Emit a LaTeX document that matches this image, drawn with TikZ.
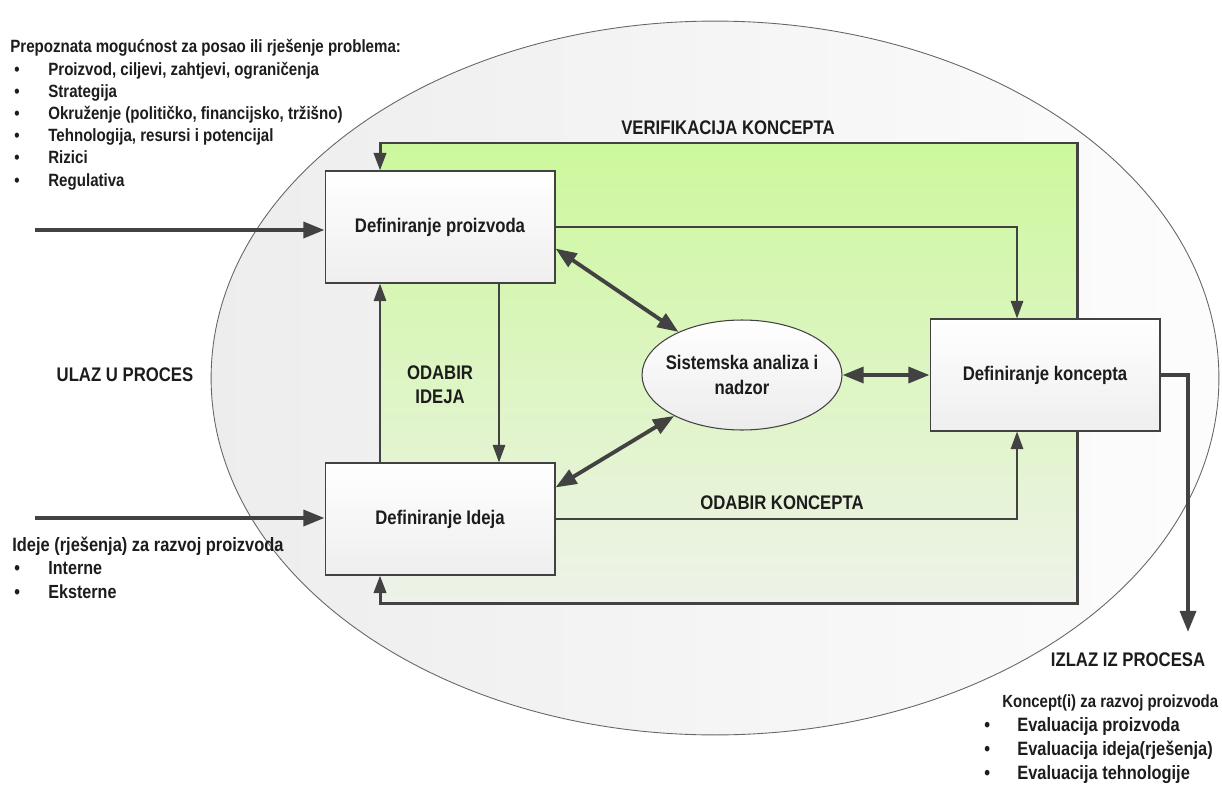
\documentclass[tikz,border=0pt]{standalone}
\usepackage{fontspec}
\setmainfont{Liberation Sans}[FakeStretch=0.85]
\usetikzlibrary{arrows.meta, shapes.geometric}

\definecolor{zelenagore}{RGB}{204,248,156}
\definecolor{zelenadolje}{RGB}{238,242,233}
\definecolor{tamnosiva}{RGB}{66,66,66}
\definecolor{slova}{RGB}{28,28,28}
\newcommand{\pismo}[2]{\fontsize{#1}{#2}\selectfont\bfseries}

\begin{document}
\begin{tikzpicture}[x=0.02cm, y=-0.02cm,
  >={Triangle[length=10pt, width=7pt]},
  tekst/.style={font=\pismo{11.2}{13.6}, text=slova, inner sep=0pt},
  kutija/.style={draw=tamnosiva, line width=0.6pt, top color=white, bottom color=gray!13,
    minimum width=4.6cm, minimum height=2.24cm, font=\pismo{11.2}{13.6}, text=slova},
  elipsa/.style={ellipse, draw=tamnosiva, line width=0.6pt, top color=white, bottom color=gray!15,
    inner xsep=-3.5pt, inner ysep=0pt, minimum width=4cm, minimum height=2.2cm,
    align=center, font=\pismo{11.2}{14}, text=slova},
  tanka/.style={draw=tamnosiva, line width=1.2pt},
  debela/.style={draw=tamnosiva, line width=2.2pt, >={Triangle[length=12pt, width=9pt]}},
  okvirna/.style={draw=tamnosiva, line width=1.7pt}]
  \useasboundingbox (0,0) rectangle (1222,787);
  % vanjska elipsa procesa
  \shade[left color=gray!14, right color=gray!2] (715,378) ellipse [x radius=10.08cm, y radius=7.14cm];
  \draw[gray!80!black, line width=0.5pt] (715,378) ellipse [x radius=10.08cm, y radius=7.14cm];
  % rubovi zelenog polja
  \coordinate (vgore) at (380,143);
  \coordinate (vdesno) at (1077,143);
  \coordinate (vdolje) at (380,603);
  \coordinate (kx) at (1017,375);
  \coordinate (sx) at (499,375);
  \shade[top color=zelenagore, bottom color=zelenadolje] (vgore) rectangle (vdesno |- vdolje);

  \node[kutija] (proizvod) at (440,227) {Definiranje proizvoda};
  \node[kutija] (ideja) at (440,519) {Definiranje Ideja};
  \node[kutija] (koncept) at (1045,375) {Definiranje koncepta};
  \node[elipsa] (analiza) at (742,375) {Sistemska analiza i\\nadzor};

  % povratne veze (verifikacija)
  \draw[okvirna,->] (koncept.north -| vdesno) |- (vgore) -- (vgore |- proizvod.north);
  \draw[okvirna,->] (koncept.south -| vdesno) |- (vdolje) -- (vdolje |- ideja.south);
  \draw[tanka,->] (proizvod.east) -| (kx |- koncept.north);
  \draw[tanka,->] (ideja.east) -| (kx |- koncept.south);
  \draw[tanka,->] (ideja.north -| vgore) -- (proizvod.south -| vgore);
  \draw[tanka,->] (proizvod.south -| sx) -- (ideja.north -| sx);
  \draw[debela,<->] ([yshift=0.7cm]proizvod.south east) -- (analiza);
  \draw[debela,<->] ([yshift=-0.5cm]ideja.north east) -- (analiza);
  \draw[debela,<->] (analiza) -- (koncept);

  % ulazi i izlaz
  \coordinate (ulaz1) at (35,230);
  \coordinate (ulaz2) at (35,518);
  \coordinate (izlaz) at (1188,632);
  \draw[debela,->] (ulaz1) -- (ulaz1 -| proizvod.west);
  \draw[debela,->] (ulaz2) -- (ulaz2 -| ideja.west);
  \draw[debela,->] (koncept.east) -| (izlaz);

  % natpisi
  \node[tekst] (verifikacija) at (728,128) {VERIFIKACIJA KONCEPTA};
  \node[tekst, align=center] (odabirideja) at (440,385) {ODABIR\\IDEJA};
  \node[tekst] (odabirkoncepta) at (782,503) {ODABIR KONCEPTA};
  \node[tekst] (ulazproces) at (125,375) {ULAZ U PROCES};
  \node[tekst, anchor=base] (izlazproces) at (1128,666) {IZLAZ IZ PROCESA};

  % ulazni zahtjevi
  \begin{scope}[every node/.append style={tekst, anchor=base west, font=\pismo{10.1}{12}}]
    \node (zahtjevi) at (10,53) {Prepoznata mogućnost za posao ili rješenje problema:};
    \foreach \stavka [count=\i] in {{Proizvod, ciljevi, zahtjevi, ograničenja}, Strategija,
        {Okruženje (političko, financijsko, tržišno)}, {Tehnologija, resursi i potencijal}, Rizici, Regulativa} {
      \node (ztocka\i) at (14,53+22.2*\i) {\textbullet};
      \node (zstavka\i) at (48,53+22.2*\i) {\stavka};
    }
  \end{scope}
  % ulazne ideje
  \begin{scope}[every node/.append style={tekst, anchor=base west, font=\pismo{10.8}{12}}]
    \node[font=\pismo{11}{12}] (ideje) at (12,551) {Ideje (rješenja) za razvoj proizvoda};
    \foreach \stavka [count=\i] in {Interne, Eksterne} {
      \node (itocka\i) at (14,551+23.5*\i) {\textbullet};
      \node (istavka\i) at (48,551+23.5*\i) {\stavka};
    }
  \end{scope}
  % izlazni koncepti
  \begin{scope}[every node/.append style={tekst, anchor=base west, font=\pismo{11}{12}}]
    \node[font=\pismo{10}{12}] (koncepti) at (1002,707) {Koncept(i) za razvoj proizvoda};
    \foreach \stavka [count=\i] in {Evaluacija proizvoda, Evaluacija ideja(rješenja), Evaluacija tehnologije} {
      \node (ktocka\i) at (984,707+24*\i) {\textbullet};
      \node (kstavka\i) at (1017,707+24*\i) {\stavka};
    }
  \end{scope}
\end{tikzpicture}
\end{document}
